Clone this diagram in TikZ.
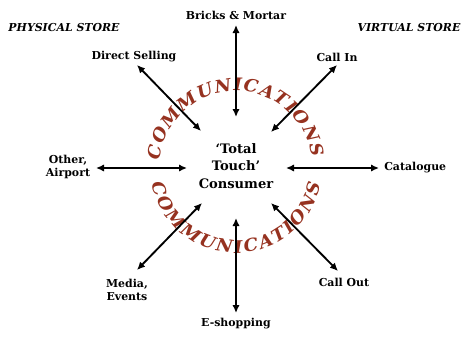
\documentclass[tikz,border=0pt]{standalone}
\usepackage{fontspec}
\setmainfont{DejaVu Serif}
\newfontfamily\commfont[FakeStretch=1.05]{DejaVu Serif}
\usetikzlibrary{arrows.meta,decorations.text}
\definecolor{commred}{RGB}{150,50,32}
\tikzset{
  x=0.75pt,y=0.75pt,
  lbl/.style={font=\fontsize{8.2}{10}\selectfont\bfseries, align=center, inner sep=0pt},
  storelbl/.style={font=\fontsize{8.2}{10}\selectfont\bfseries\itshape, inner sep=0pt},
  ctr/.style={font=\fontsize{9.8}{13}\selectfont\bfseries, align=center, inner sep=0pt},
  link/.style={line width=1.4pt, {Latex[length=6pt,width=5.5pt]}-{Latex[length=6pt,width=5.5pt]}},
  curved/.style={decorate, decoration={text along path, text align=fit to path,
     text={|\commfont\fontsize{13}{15}\selectfont\bfseries\itshape\color{commred}|COMMUNICATIONS}}}
}
\begin{document}
\begin{tikzpicture}
\useasboundingbox (0,0) rectangle (464,337);
\coordinate (O) at (236,170);
% curved text (drawn below the arrows)
\path[curved] (O) ++(175:76) arc[start angle=175, end angle=7, radius=76];
\path[curved] (O) ++(191:86) arc[start angle=191, end angle=349, radius=86];
% labels
\node[lbl] (bricks) at (236,322) {Bricks \& Mortar};
\node[storelbl] (phys) at (64,309) {PHYSICAL STORE};
\node[storelbl] (virt) at (409,309) {VIRTUAL STORE};
\node[lbl] (direct) at (134,280) {Direct Selling};
\node[lbl] (callin) at (337,280) {Call In};
\node[lbl] (other) at (68,170) {Other,\\Airport};
\node[lbl, anchor=west] (cat) at (384,169) {Catalogue};
\node[lbl] (media) at (127,47) {Media,\\Events};
\node[lbl] (eshop) at (236,13) {E-shopping};
\node[lbl] (callout) at (344,55) {Call Out};
\node[ctr] (consumer) at (236,171) {‘Total\\Touch’\\Consumer};
% arrow end points
\coordinate (b1) at (236,312); \coordinate (b2) at (236,220);
\coordinate (d1) at (137,272); \coordinate (d2) at (201,206);
\coordinate (c1) at (337,272); \coordinate (c2) at (271,205);
\coordinate (o1) at (96,169);  \coordinate (o2) at (187,169);
\coordinate (k1) at (379,169); \coordinate (k2) at (286,169);
\coordinate (m1) at (137,67);  \coordinate (m2) at (202,134);
\coordinate (e1) at (236,24);  \coordinate (e2) at (236,119);
\coordinate (co1) at (338,66); \coordinate (co2) at (271,134);
\draw[link] (b1) -- (b2);
\draw[link] (d1) -- (d2);
\draw[link] (c1) -- (c2);
\draw[link] (o1) -- (o2);
\draw[link] (k1) -- (k2);
\draw[link] (m1) -- (m2);
\draw[link] (e1) -- (e2);
\draw[link] (co1) -- (co2);
\end{tikzpicture}
\end{document}
